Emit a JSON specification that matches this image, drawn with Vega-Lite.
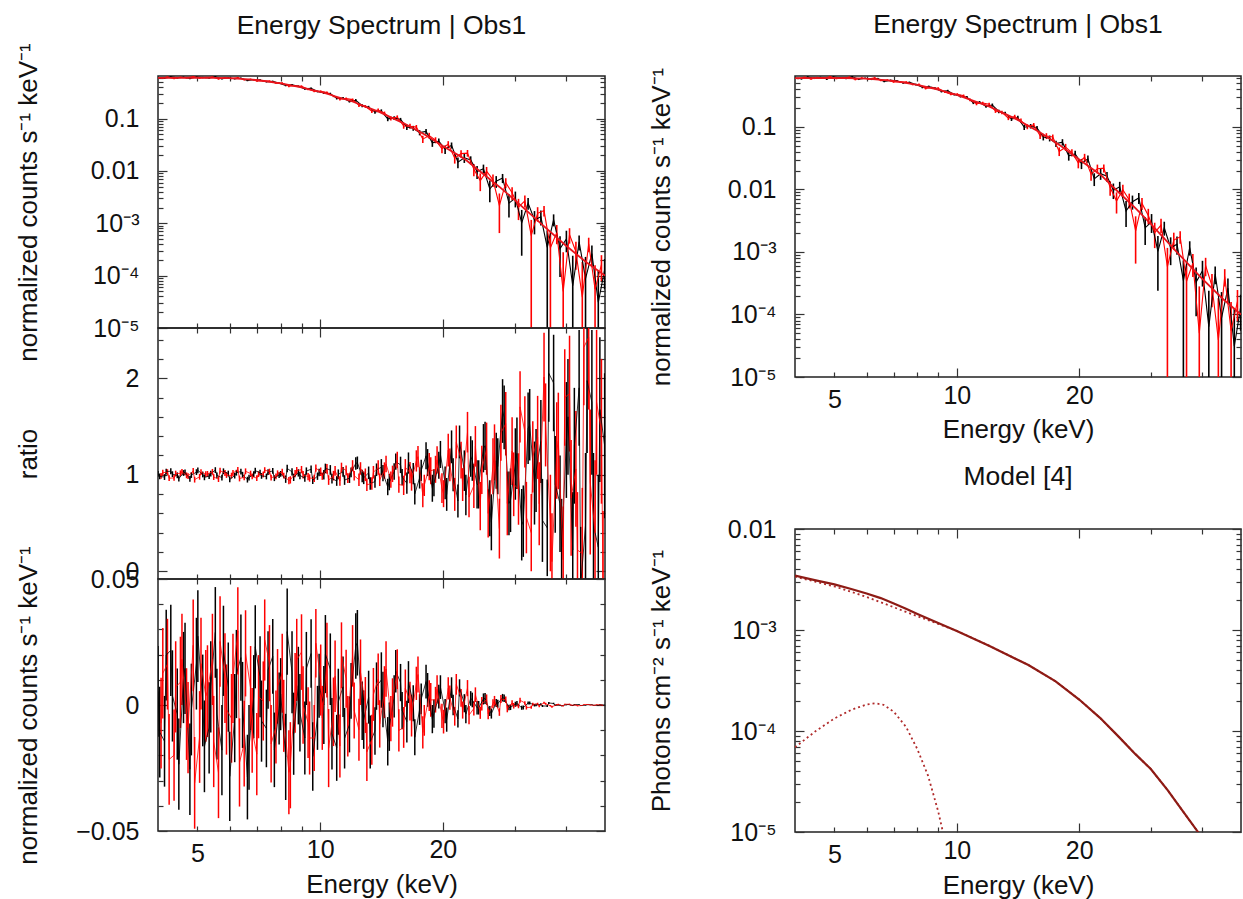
{
"$schema": "https://vega.github.io/schema/vega-lite/v6.json",
"padding": {"left": 14, "top": 10, "right": 0, "bottom": 0},
"background": "white",
"config": {
  "font": "Liberation Sans",
  "view": {"stroke": "#222", "strokeWidth": 1.5},
  "axis": {"domain": false, "grid": false, "labelFont": "Liberation Sans", "labelFontSize": 25, "labelColor": "#111", "titleFont": "Liberation Sans", "titleFontSize": 26, "titleFontWeight": "normal", "titleColor": "#111", "tickColor": "#333", "tickWidth": 1.2},
  "title": {"font": "Liberation Sans", "fontSize": 26.5, "fontWeight": "normal", "color": "#111", "anchor": "middle", "frame": "group"}
},
"datasets": {
"spec": [
{"s":"A","e":4.00,"c":0.605,"cl":0.587,"ch":0.623,"r":1.009,"rl":0.979,"rh":1.039,"d":0.0054,"dl":-0.0126,"dh":0.0234},
{"s":"A","e":4.15,"c":0.587,"cl":0.569,"ch":0.605,"r":0.976,"rl":0.946,"rh":1.006,"d":-0.0144,"dl":-0.0324,"dh":0.0036},
{"s":"A","e":4.30,"c":0.624,"cl":0.606,"ch":0.642,"r":1.036,"rl":1.006,"rh":1.066,"d":0.0217,"dl":0.0036,"dh":0.0398},
{"s":"A","e":4.46,"c":0.599,"cl":0.581,"ch":0.617,"r":0.994,"rl":0.964,"rh":1.024,"d":-0.0036,"dl":-0.0217,"dh":0.0145},
{"s":"A","e":4.62,"c":0.615,"cl":0.597,"ch":0.633,"r":1.018,"rl":0.988,"rh":1.048,"d":0.0109,"dl":-0.0072,"dh":0.029},
{"s":"A","e":4.79,"c":0.581,"cl":0.562,"ch":0.599,"r":0.958,"rl":0.928,"rh":0.988,"d":-0.0255,"dl":-0.0437,"dh":-0.0073},
{"s":"A","e":4.97,"c":0.623,"cl":0.605,"ch":0.642,"r":1.027,"rl":0.997,"rh":1.057,"d":0.0164,"dl":-0.0018,"dh":0.0346},
{"s":"A","e":5.15,"c":0.608,"cl":0.590,"ch":0.626,"r":1.003,"rl":0.973,"rh":1.033,"d":0.0018,"dl":-0.0164,"dh":0.02},
{"s":"A","e":5.34,"c":0.595,"cl":0.577,"ch":0.613,"r":0.985,"rl":0.955,"rh":1.015,"d":-0.0091,"dl":-0.0272,"dh":0.009},
{"s":"A","e":5.53,"c":0.630,"cl":0.612,"ch":0.648,"r":1.048,"rl":1.018,"rh":1.078,"d":0.0288,"dl":0.0108,"dh":0.0468},
{"s":"A","e":5.74,"c":0.578,"cl":0.560,"ch":0.596,"r":0.970,"rl":0.94,"rh":1.0,"d":-0.0179,"dl":-0.0358,"dh":0},
{"s":"A","e":5.95,"c":0.598,"cl":0.580,"ch":0.616,"r":1.012,"rl":0.982,"rh":1.042,"d":0.0071,"dl":-0.0106,"dh":0.0248},
{"s":"A","e":6.17,"c":0.577,"cl":0.559,"ch":0.594,"r":0.991,"rl":0.961,"rh":1.021,"d":-0.0052,"dl":-0.0227,"dh":0.0123},
{"s":"A","e":6.39,"c":0.590,"cl":0.573,"ch":0.607,"r":1.033,"rl":1.003,"rh":1.063,"d":0.0188,"dl":0.0017,"dh":0.0359},
{"s":"A","e":6.63,"c":0.532,"cl":0.516,"ch":0.549,"r":0.949,"rl":0.919,"rh":0.979,"d":-0.0286,"dl":-0.0454,"dh":-0.0118},
{"s":"A","e":6.87,"c":0.553,"cl":0.537,"ch":0.570,"r":1.006,"rl":0.976,"rh":1.036,"d":0.0033,"dl":-0.0132,"dh":0.0198},
{"s":"A","e":7.12,"c":0.546,"cl":0.530,"ch":0.562,"r":1.021,"rl":0.991,"rh":1.051,"d":0.0112,"dl":-0.0049,"dh":0.0273},
{"s":"A","e":7.38,"c":0.505,"cl":0.489,"ch":0.520,"r":0.982,"rl":0.952,"rh":1.012,"d":-0.0093,"dl":-0.0247,"dh":0.0061},
{"s":"A","e":7.65,"c":0.513,"cl":0.498,"ch":0.528,"r":1.039,"rl":1.009,"rh":1.069,"d":0.0193,"dl":0.0045,"dh":0.0341},
{"s":"A","e":7.93,"c":0.474,"cl":0.459,"ch":0.488,"r":0.997,"rl":0.967,"rh":1.027,"d":-0.0014,"dl":-0.0157,"dh":0.0129},
{"s":"A","e":8.23,"c":0.430,"cl":0.413,"ch":0.448,"r":0.954,"rl":0.916,"rh":0.992,"d":-0.0206,"dl":-0.0377,"dh":-0.0035},
{"s":"A","e":8.53,"c":0.441,"cl":0.425,"ch":0.457,"r":1.030,"rl":0.992,"rh":1.068,"d":0.013,"dl":-0.0033,"dh":0.0293},
{"s":"A","e":8.84,"c":0.414,"cl":0.398,"ch":0.429,"r":1.019,"rl":0.981,"rh":1.057,"d":0.0077,"dl":-0.0077,"dh":0.0231},
{"s":"A","e":9.17,"c":0.369,"cl":0.354,"ch":0.383,"r":0.966,"rl":0.928,"rh":1.004,"d":-0.0131,"dl":-0.0276,"dh":0.0014},
{"s":"A","e":9.50,"c":0.377,"cl":0.364,"ch":0.391,"r":1.057,"rl":1.019,"rh":1.095,"d":0.0204,"dl":0.0068,"dh":0.034},
{"s":"A","e":9.85,"c":0.329,"cl":0.316,"ch":0.342,"r":0.985,"rl":0.947,"rh":1.023,"d":-0.0051,"dl":-0.0178,"dh":0.0076},
{"s":"A","e":10.21,"c":0.309,"cl":0.294,"ch":0.325,"r":1.0,"rl":0.95,"rh":1.05,"d":0,"dl":-0.0155,"dh":0.0155},
{"s":"A","e":10.59,"c":0.298,"cl":0.284,"ch":0.312,"r":1.05,"rl":1.0,"rh":1.1,"d":0.0142,"dl":0,"dh":0.0284},
{"s":"A","e":10.98,"c":0.244,"cl":0.231,"ch":0.257,"r":0.935,"rl":0.885,"rh":0.985,"d":-0.017,"dl":-0.0301,"dh":-0.0039},
{"s":"A","e":11.38,"c":0.247,"cl":0.235,"ch":0.259,"r":1.03,"rl":0.98,"rh":1.08,"d":0.0072,"dl":-0.0048,"dh":0.0192},
{"s":"A","e":11.80,"c":0.213,"cl":0.202,"ch":0.224,"r":0.965,"rl":0.915,"rh":1.015,"d":-0.0077,"dl":-0.0188,"dh":0.0034},
{"s":"A","e":12.23,"c":0.223,"cl":0.210,"ch":0.236,"r":1.117,"rl":1.052,"rh":1.182,"d":0.0234,"dl":0.0104,"dh":0.0364},
{"s":"A","e":12.68,"c":0.177,"cl":0.165,"ch":0.188,"r":0.987,"rl":0.922,"rh":1.052,"d":-0.0023,"dl":-0.0139,"dh":0.0093},
{"s":"A","e":13.15,"c":0.164,"cl":0.154,"ch":0.175,"r":1.02,"rl":0.955,"rh":1.085,"d":0.0031,"dl":-0.0074,"dh":0.0136},
{"s":"A","e":13.63,"c":0.134,"cl":0.124,"ch":0.143,"r":0.929,"rl":0.864,"rh":0.994,"d":-0.0103,"dl":-0.0197,"dh":-0.0009},
{"s":"A","e":14.13,"c":0.139,"cl":0.128,"ch":0.150,"r":1.077,"rl":0.992,"rh":1.162,"d":0.0099,"dl":-0.0011,"dh":0.0209},
{"s":"A","e":14.65,"c":0.0986,"cl":0.089,"ch":0.108,"r":0.873,"rl":0.788,"rh":0.958,"d":-0.0144,"dl":-0.024,"dh":-0.0048},
{"s":"A","e":15.19,"c":0.102,"cl":0.094,"ch":0.111,"r":1.034,"rl":0.949,"rh":1.119,"d":0.0034,"dl":-0.005,"dh":0.0118},
{"s":"A","e":15.75,"c":0.0958,"cl":0.0884,"ch":0.103,"r":1.102,"rl":1.017,"rh":1.187,"d":0.0089,"dl":0.0015,"dh":0.0163},
{"s":"A","e":16.32,"c":0.0689,"cl":0.0606,"ch":0.0772,"r":0.912,"rl":0.802,"rh":1.022,"d":-0.0066,"dl":-0.0149,"dh":0.0017},
{"s":"A","e":16.92,"c":0.0655,"cl":0.0584,"ch":0.0726,"r":1.011,"rl":0.901,"rh":1.121,"d":0.0007,"dl":-0.0064,"dh":0.0078},
{"s":"A","e":17.54,"c":0.0539,"cl":0.0478,"ch":0.06,"r":0.967,"rl":0.857,"rh":1.077,"d":-0.0018,"dl":-0.0079,"dh":0.0043},
{"s":"A","e":18.19,"c":0.0568,"cl":0.0502,"ch":0.0635,"r":1.196,"rl":1.056,"rh":1.336,"d":0.0093,"dl":0.0026,"dh":0.016},
{"s":"A","e":18.85,"c":0.0344,"cl":0.0288,"ch":0.04,"r":0.86,"rl":0.72,"rh":1.0,"d":-0.0056,"dl":-0.0112,"dh":0},
{"s":"A","e":19.55,"c":0.0369,"cl":0.0322,"ch":0.0416,"r":1.098,"rl":0.958,"rh":1.238,"d":0.0033,"dl":-0.0014,"dh":0.008},
{"s":"A","e":20.26,"c":0.0259,"cl":0.0211,"ch":0.0307,"r":0.915,"rl":0.745,"rh":1.085,"d":-0.0024,"dl":-0.0072,"dh":0.0024},
{"s":"A","e":21.01,"c":0.0308,"cl":0.0267,"ch":0.0349,"r":1.289,"rl":1.119,"rh":1.459,"d":0.0069,"dl":0.0028,"dh":0.011},
{"s":"A","e":21.78,"c":0.0147,"cl":0.0113,"ch":0.0181,"r":0.728,"rl":0.558,"rh":0.898,"d":-0.0055,"dl":-0.0089,"dh":-0.0021},
{"s":"A","e":22.58,"c":0.0178,"cl":0.0142,"ch":0.0214,"r":1.042,"rl":0.832,"rh":1.252,"d":0.0007,"dl":-0.0029,"dh":0.0043},
{"s":"A","e":23.41,"c":0.0162,"cl":0.0133,"ch":0.019,"r":1.189,"rl":0.979,"rh":1.399,"d":0.0026,"dl":-0.0003,"dh":0.0055},
{"s":"A","e":24.27,"c":0.0097,"cl":0.007,"ch":0.0124,"r":0.9,"rl":0.65,"rh":1.15,"d":-0.0011,"dl":-0.0038,"dh":0.0016},
{"s":"A","e":25.16,"c":0.011,"cl":0.00887,"ch":0.0132,"r":1.275,"rl":1.025,"rh":1.525,"d":0.0024,"dl":0.0002,"dh":0.0046},
{"s":"A","e":26.08,"c":0.00452,"cl":0.00251,"ch":0.00653,"r":0.652,"rl":0.362,"rh":0.942,"d":-0.0024,"dl":-0.0044,"dh":-0.0004},
{"s":"A","e":27.04,"c":0.00635,"cl":0.00474,"ch":0.00796,"r":1.145,"rl":0.855,"rh":1.435,"d":0.0008,"dl":-0.0008,"dh":0.0024},
{"s":"A","e":28.03,"c":0.0073,"cl":0.00585,"ch":0.00875,"r":1.66,"rl":1.33,"rh":1.99,"d":0.0029,"dl":0.0014,"dh":0.0044},
{"s":"A","e":29.06,"c":0.00243,"cl":0.00129,"ch":0.00357,"r":0.703,"rl":0.373,"rh":1.033,"d":-0.001,"dl":-0.0021,"dh":0.0001},
{"s":"A","e":30.13,"c":0.00302,"cl":0.00201,"ch":0.00403,"r":1.111,"rl":0.741,"rh":1.481,"d":0.0003,"dl":-0.0007,"dh":0.0013},
{"s":"A","e":31.23,"c":0.00102,"cl":0.00024,"ch":0.0018,"r":0.482,"rl":0.112,"rh":0.852,"d":-0.0011,"dl":-0.0019,"dh":-0.0003},
{"s":"A","e":32.38,"c":0.00243,"cl":0.00182,"ch":0.00304,"r":1.481,"rl":1.111,"rh":1.851,"d":0.0008,"dl":0.0002,"dh":0.0014},
{"s":"A","e":33.57,"c":0.00116,"cl":0.000614,"ch":0.00171,"r":0.914,"rl":0.484,"rh":1.344,"d":-0.0001,"dl":-0.0006,"dh":0.0004},
{"s":"A","e":34.80,"c":0.00133,"cl":0.000904,"ch":0.00176,"r":1.344,"rl":0.914,"rh":1.774,"d":0.0003,"dl":-0.0001,"dh":0.0007},
{"s":"A","e":36.08,"c":0.000347,"cl":0.000001,"ch":0.000733,"r":0.45,"rl":-0.05,"rh":0.95,"d":-0.0004,"dl":-0.0008,"dh":0},
{"s":"A","e":37.40,"c":0.00117,"cl":0.000873,"ch":0.00148,"r":1.95,"rl":1.45,"rh":2.45,"d":0.0006,"dl":0.0003,"dh":0.0009},
{"s":"A","e":38.78,"c":0.000329,"cl":0.000094,"ch":0.000564,"r":0.7,"rl":0.2,"rh":1.2,"d":-0.0001,"dl":-0.0003,"dh":0.0001},
{"s":"A","e":40.20,"c":0.0005,"cl":0.000279,"ch":0.000721,"r":1.36,"rl":0.76,"rh":1.96,"d":0.0001,"dl":-0.0001,"dh":0.0003},
{"s":"A","e":41.67,"c":0.000064,"cl":0.000001,"ch":0.00024,"r":0.22,"rl":-0.38,"rh":0.82,"d":-0.0002,"dl":-0.0004,"dh":0},
{"s":"A","e":43.20,"c":0.000443,"cl":0.000303,"ch":0.000583,"r":1.9,"rl":1.3,"rh":2.5,"d":0.0002,"dl":0.0001,"dh":0.0003},
{"s":"A","e":44.79,"c":0.000088,"cl":0.000001,"ch":0.000228,"r":0.475,"rl":-0.275,"rh":1.225,"d":-0.0001,"dl":-0.0002,"dh":0},
{"s":"A","e":46.43,"c":0.000264,"cl":0.000151,"ch":0.000377,"r":1.75,"rl":1.0,"rh":2.5,"d":0.0001,"dl":0,"dh":0.0002},
{"s":"A","e":48.14,"c":0.000031,"cl":0.000001,"ch":0.000124,"r":0.25,"rl":-0.5,"rh":1.0,"d":-0.0001,"dl":-0.0002,"dh":0},
{"s":"A","e":49.90,"c":0.000131,"cl":0.000055,"ch":0.000207,"r":1.3,"rl":0.55,"rh":2.05,"d":0,"dl":-0.0001,"dh":0.0001},
{"s":"A","e":4.04,"r":0.982,"rl":0.952,"rh":1.012,"d":-0.0108,"dl":-0.0288,"dh":0.0072},
{"s":"A","e":4.19,"r":1.033,"rl":1.003,"rh":1.063,"d":0.0198,"dl":0.0018,"dh":0.0378},
{"s":"A","e":4.34,"r":1.006,"rl":0.976,"rh":1.036,"d":0.0036,"dl":-0.0145,"dh":0.0217},
{"s":"A","e":4.50,"r":0.961,"rl":0.931,"rh":0.991,"d":-0.0235,"dl":-0.0416,"dh":-0.0054},
{"s":"A","e":4.66,"r":1.024,"rl":0.994,"rh":1.054,"d":0.0145,"dl":-0.0036,"dh":0.0326},
{"s":"A","e":4.83,"r":0.997,"rl":0.967,"rh":1.027,"d":-0.0018,"dl":-0.02,"dh":0.0164},
{"s":"A","e":5.01,"r":1.045,"rl":1.015,"rh":1.075,"d":0.0273,"dl":0.0091,"dh":0.0455},
{"s":"A","e":5.20,"r":0.973,"rl":0.943,"rh":1.003,"d":-0.0164,"dl":-0.0346,"dh":0.0018},
{"s":"A","e":5.39,"r":1.012,"rl":0.982,"rh":1.042,"d":0.0072,"dl":-0.0109,"dh":0.0253},
{"s":"A","e":5.58,"r":0.994,"rl":0.964,"rh":1.024,"d":-0.0036,"dl":-0.0216,"dh":0.0144},
{"s":"A","e":5.79,"r":1.036,"rl":1.006,"rh":1.066,"d":0.0215,"dl":0.0036,"dh":0.0394},
{"s":"A","e":6.00,"r":0.952,"rl":0.922,"rh":0.982,"d":-0.0283,"dl":-0.046,"dh":-0.0106},
{"s":"A","e":6.23,"r":1.021,"rl":0.991,"rh":1.051,"d":0.0123,"dl":-0.0052,"dh":0.0298},
{"s":"A","e":6.45,"r":1.0,"rl":0.97,"rh":1.03,"d":0,"dl":-0.0171,"dh":0.0171},
{"s":"A","e":6.69,"r":0.97,"rl":0.94,"rh":1.0,"d":-0.0168,"dl":-0.0336,"dh":0},
{"s":"A","e":6.93,"r":1.042,"rl":1.012,"rh":1.072,"d":0.0231,"dl":0.0066,"dh":0.0396},
{"s":"A","e":7.18,"r":0.988,"rl":0.958,"rh":1.018,"d":-0.0064,"dl":-0.0225,"dh":0.0097},
{"s":"A","e":7.45,"r":1.027,"rl":0.997,"rh":1.057,"d":0.0139,"dl":-0.0015,"dh":0.0293},
{"s":"A","e":7.72,"r":0.964,"rl":0.934,"rh":0.994,"d":-0.0178,"dl":-0.0326,"dh":-0.003},
{"s":"A","e":8.00,"r":1.009,"rl":0.979,"rh":1.039,"d":0.0043,"dl":-0.01,"dh":0.0186},
{"s":"A","e":8.30,"r":1.065,"rl":1.027,"rh":1.103,"d":0.0291,"dl":0.012,"dh":0.0462},
{"s":"A","e":8.61,"r":0.973,"rl":0.935,"rh":1.011,"d":-0.0114,"dl":-0.0277,"dh":0.0049},
{"s":"A","e":8.92,"r":0.992,"rl":0.954,"rh":1.03,"d":-0.0031,"dl":-0.0185,"dh":0.0123},
{"s":"A","e":9.25,"r":1.038,"rl":1.0,"rh":1.076,"d":0.0145,"dl":0,"dh":0.029},
{"s":"A","e":9.59,"r":0.943,"rl":0.905,"rh":0.981,"d":-0.0204,"dl":-0.034,"dh":-0.0068},
{"s":"A","e":9.94,"r":1.023,"rl":0.985,"rh":1.061,"d":0.0076,"dl":-0.0051,"dh":0.0203},
{"s":"A","e":10.30,"r":1.065,"rl":1.015,"rh":1.115,"d":0.0202,"dl":0.0047,"dh":0.0357},
{"s":"A","e":10.69,"r":0.96,"rl":0.91,"rh":1.01,"d":-0.0114,"dl":-0.0256,"dh":0.0028},
{"s":"A","e":11.08,"r":1.005,"rl":0.955,"rh":1.055,"d":0.0013,"dl":-0.0118,"dh":0.0144},
{"s":"A","e":11.48,"r":0.945,"rl":0.895,"rh":0.995,"d":-0.0132,"dl":-0.0252,"dh":-0.0012},
{"s":"A","e":11.91,"r":1.025,"rl":0.975,"rh":1.075,"d":0.0056,"dl":-0.0055,"dh":0.0167},
{"s":"A","e":12.34,"r":1.124,"rl":1.059,"rh":1.189,"d":0.0247,"dl":0.0117,"dh":0.0377},
{"s":"A","e":12.79,"r":0.968,"rl":0.903,"rh":1.033,"d":-0.0058,"dl":-0.0174,"dh":0.0058},
{"s":"A","e":13.27,"r":0.909,"rl":0.844,"rh":0.974,"d":-0.0147,"dl":-0.0252,"dh":-0.0042},
{"s":"A","e":13.75,"r":1.052,"rl":0.987,"rh":1.117,"d":0.0075,"dl":-0.0019,"dh":0.0169},
{"s":"A","e":14.26,"r":1.017,"rl":0.932,"rh":1.102,"d":0.0022,"dl":-0.0088,"dh":0.0132},
{"s":"A","e":14.78,"r":0.924,"rl":0.839,"rh":1.009,"d":-0.0086,"dl":-0.0182,"dh":0.001},
{"s":"A","e":15.33,"r":1.136,"rl":1.051,"rh":1.221,"d":0.0134,"dl":0.005,"dh":0.0218},
{"s":"A","e":15.89,"r":0.975,"rl":0.89,"rh":1.06,"d":-0.0022,"dl":-0.0096,"dh":0.0052},
{"s":"A","e":16.47,"r":1.121,"rl":1.011,"rh":1.231,"d":0.0091,"dl":0.0008,"dh":0.0174},
{"s":"A","e":17.07,"r":0.802,"rl":0.692,"rh":0.912,"d":-0.0128,"dl":-0.0199,"dh":-0.0057},
{"s":"A","e":17.70,"r":1.044,"rl":0.934,"rh":1.154,"d":0.0024,"dl":-0.0037,"dh":0.0085},
{"s":"A","e":18.35,"r":1.126,"rl":0.986,"rh":1.266,"d":0.006,"dl":-0.0007,"dh":0.0127},
{"s":"A","e":19.02,"r":0.916,"rl":0.776,"rh":1.056,"d":-0.0034,"dl":-0.009,"dh":0.0022},
{"s":"A","e":19.73,"r":1.21,"rl":1.07,"rh":1.35,"d":0.0071,"dl":0.0024,"dh":0.0118},
{"s":"A","e":20.44,"r":0.796,"rl":0.626,"rh":0.966,"d":-0.0058,"dl":-0.0106,"dh":-0.001},
{"s":"A","e":21.20,"r":1.0,"rl":0.83,"rh":1.17,"d":0,"dl":-0.0041,"dh":0.0041},
{"s":"A","e":21.98,"r":1.34,"rl":1.17,"rh":1.51,"d":0.0068,"dl":0.0034,"dh":0.0102},
{"s":"A","e":22.78,"r":0.79,"rl":0.58,"rh":1.0,"d":-0.0036,"dl":-0.0072,"dh":0},
{"s":"A","e":23.62,"r":1.147,"rl":0.937,"rh":1.357,"d":0.002,"dl":-0.0009,"dh":0.0049},
{"s":"A","e":24.49,"r":0.9,"rl":0.65,"rh":1.15,"d":-0.0011,"dl":-0.0038,"dh":0.0016},
{"s":"A","e":25.39,"r":1.3,"rl":1.05,"rh":1.55,"d":0.0026,"dl":0.0004,"dh":0.0048},
{"s":"A","e":26.31,"r":0.507,"rl":0.217,"rh":0.797,"d":-0.0034,"dl":-0.0054,"dh":-0.0014},
{"s":"A","e":27.28,"r":1.087,"rl":0.797,"rh":1.377,"d":0.0005,"dl":-0.0011,"dh":0.0021},
{"s":"A","e":28.28,"r":1.594,"rl":1.264,"rh":1.924,"d":0.0027,"dl":0.0012,"dh":0.0042},
{"s":"A","e":29.32,"r":0.736,"rl":0.406,"rh":1.066,"d":-0.0009,"dl":-0.002,"dh":0.0002},
{"s":"A","e":30.40,"r":1.222,"rl":0.852,"rh":1.592,"d":0.0006,"dl":-0.0004,"dh":0.0016},
{"s":"A","e":31.51,"r":0.519,"rl":0.149,"rh":0.889,"d":-0.001,"dl":-0.0018,"dh":-0.0002},
{"s":"A","e":32.67,"r":1.518,"rl":1.148,"rh":1.888,"d":0.0008,"dl":0.0002,"dh":0.0014},
{"s":"A","e":33.87,"r":1.043,"rl":0.613,"rh":1.473,"d":0,"dl":-0.0005,"dh":0.0005},
{"s":"A","e":35.11,"r":0.527,"rl":0.097,"rh":0.957,"d":-0.0004,"dl":-0.0008,"dh":0},
{"s":"A","e":36.40,"r":2.05,"rl":1.55,"rh":2.55,"d":0.0008,"dl":0.0004,"dh":0.0012},
{"s":"A","e":37.74,"r":0.9,"rl":0.4,"rh":1.4,"d":-0.0001,"dl":-0.0004,"dh":0.0002},
{"s":"A","e":39.13,"r":0.25,"rl":-0.25,"rh":0.75,"d":-0.0003,"dl":-0.0005,"dh":-0.0001},
{"s":"A","e":40.56,"r":1.6,"rl":1.0,"rh":2.2,"d":0.0002,"dl":0,"dh":0.0004},
{"s":"A","e":42.05,"r":1.3,"rl":0.7,"rh":1.9,"d":0.0001,"dl":-0.0001,"dh":0.0003},
{"s":"A","e":43.59,"r":-0.14,"rl":-0.74,"rh":0.46,"d":-0.0002,"dl":-0.0003,"dh":-0.0001},
{"s":"A","e":45.19,"r":1.975,"rl":1.225,"rh":2.725,"d":0.0001,"dl":0,"dh":0.0002},
{"s":"A","e":46.85,"r":0.475,"rl":-0.275,"rh":1.225,"d":-0.0001,"dl":-0.0002,"dh":0},
{"s":"A","e":48.57,"r":1.675,"rl":0.925,"rh":2.425,"d":0.0001,"dl":0,"dh":0.0002},
{"s":"B","e":4.07,"c":0.593,"cl":0.575,"ch":0.611,"r":0.988,"rl":0.958,"rh":1.018,"d":-0.0072,"dl":-0.0252,"dh":0.0108},
{"s":"B","e":4.22,"c":0.618,"cl":0.600,"ch":0.636,"r":1.027,"rl":0.997,"rh":1.057,"d":0.0162,"dl":-0.0018,"dh":0.0342},
{"s":"B","e":4.38,"c":0.583,"cl":0.565,"ch":0.601,"r":0.967,"rl":0.937,"rh":0.997,"d":-0.0199,"dl":-0.038,"dh":-0.0018},
{"s":"B","e":4.54,"c":0.613,"cl":0.594,"ch":0.631,"r":1.015,"rl":0.985,"rh":1.045,"d":0.009,"dl":-0.0091,"dh":0.0271},
{"s":"B","e":4.70,"c":0.601,"cl":0.583,"ch":0.620,"r":0.994,"rl":0.964,"rh":1.024,"d":-0.0036,"dl":-0.0218,"dh":0.0146},
{"s":"B","e":4.88,"c":0.630,"cl":0.612,"ch":0.648,"r":1.039,"rl":1.009,"rh":1.069,"d":0.0237,"dl":0.0055,"dh":0.0419},
{"s":"B","e":5.06,"c":0.594,"cl":0.576,"ch":0.612,"r":0.979,"rl":0.949,"rh":1.009,"d":-0.0127,"dl":-0.0309,"dh":0.0055},
{"s":"B","e":5.24,"c":0.609,"cl":0.590,"ch":0.627,"r":1.006,"rl":0.976,"rh":1.036,"d":0.0036,"dl":-0.0146,"dh":0.0218},
{"s":"B","e":5.44,"c":0.621,"cl":0.603,"ch":0.639,"r":1.03,"rl":1.0,"rh":1.06,"d":0.0181,"dl":0,"dh":0.0362},
{"s":"B","e":5.63,"c":0.572,"cl":0.554,"ch":0.590,"r":0.955,"rl":0.925,"rh":0.985,"d":-0.0269,"dl":-0.0449,"dh":-0.0089},
{"s":"B","e":5.84,"c":0.604,"cl":0.586,"ch":0.622,"r":1.018,"rl":0.988,"rh":1.048,"d":0.0107,"dl":-0.0071,"dh":0.0285},
{"s":"B","e":6.06,"c":0.581,"cl":0.564,"ch":0.599,"r":0.991,"rl":0.961,"rh":1.021,"d":-0.0053,"dl":-0.0229,"dh":0.0123},
{"s":"B","e":6.28,"c":0.606,"cl":0.589,"ch":0.623,"r":1.051,"rl":1.021,"rh":1.081,"d":0.0294,"dl":0.0121,"dh":0.0467},
{"s":"B","e":6.51,"c":0.551,"cl":0.534,"ch":0.568,"r":0.973,"rl":0.943,"rh":1.003,"d":-0.0153,"dl":-0.0323,"dh":0.0017},
{"s":"B","e":6.75,"c":0.562,"cl":0.546,"ch":0.579,"r":1.012,"rl":0.982,"rh":1.042,"d":0.0067,"dl":-0.01,"dh":0.0234},
{"s":"B","e":6.99,"c":0.523,"cl":0.507,"ch":0.539,"r":0.964,"rl":0.934,"rh":0.994,"d":-0.0195,"dl":-0.0358,"dh":-0.0032},
{"s":"B","e":7.25,"c":0.526,"cl":0.510,"ch":0.542,"r":1.003,"rl":0.973,"rh":1.033,"d":0.0016,"dl":-0.0141,"dh":0.0173},
{"s":"B","e":7.51,"c":0.521,"cl":0.506,"ch":0.536,"r":1.033,"rl":1.003,"rh":1.063,"d":0.0166,"dl":0.0015,"dh":0.0317},
{"s":"B","e":7.79,"c":0.476,"cl":0.461,"ch":0.490,"r":0.982,"rl":0.952,"rh":1.012,"d":-0.0087,"dl":-0.0232,"dh":0.0058},
{"s":"B","e":8.07,"c":0.476,"cl":0.460,"ch":0.491,"r":1.027,"rl":0.993,"rh":1.061,"d":0.0126,"dl":-0.0031,"dh":0.0283},
{"s":"B","e":8.38,"c":0.413,"cl":0.396,"ch":0.430,"r":0.939,"rl":0.901,"rh":0.977,"d":-0.0267,"dl":-0.0434,"dh":-0.01},
{"s":"B","e":8.68,"c":0.422,"cl":0.406,"ch":0.438,"r":1.011,"rl":0.973,"rh":1.049,"d":0.0048,"dl":-0.011,"dh":0.0206},
{"s":"B","e":9.00,"c":0.415,"cl":0.400,"ch":0.430,"r":1.053,"rl":1.015,"rh":1.091,"d":0.021,"dl":0.006,"dh":0.036},
{"s":"B","e":9.34,"c":0.362,"cl":0.348,"ch":0.376,"r":0.981,"rl":0.943,"rh":1.019,"d":-0.007,"dl":-0.021,"dh":0.007},
{"s":"B","e":9.67,"c":0.332,"cl":0.319,"ch":0.345,"r":0.962,"rl":0.924,"rh":1.0,"d":-0.0131,"dl":-0.0262,"dh":0},
{"s":"B","e":10.03,"c":0.331,"cl":0.317,"ch":0.345,"r":1.031,"rl":0.987,"rh":1.075,"d":0.0099,"dl":-0.0042,"dh":0.024},
{"s":"B","e":10.39,"c":0.314,"cl":0.299,"ch":0.329,"r":1.06,"rl":1.01,"rh":1.11,"d":0.0178,"dl":0.003,"dh":0.0326},
{"s":"B","e":10.78,"c":0.269,"cl":0.256,"ch":0.283,"r":0.99,"rl":0.94,"rh":1.04,"d":-0.0027,"dl":-0.0163,"dh":0.0109},
{"s":"B","e":11.18,"c":0.234,"cl":0.221,"ch":0.246,"r":0.935,"rl":0.885,"rh":0.985,"d":-0.0163,"dl":-0.0288,"dh":-0.0038},
{"s":"B","e":11.58,"c":0.240,"cl":0.229,"ch":0.252,"r":1.045,"rl":0.995,"rh":1.095,"d":0.0104,"dl":-0.0011,"dh":0.0219},
{"s":"B","e":12.01,"c":0.230,"cl":0.217,"ch":0.242,"r":1.093,"rl":1.035,"rh":1.151,"d":0.0195,"dl":0.0073,"dh":0.0317},
{"s":"B","e":12.45,"c":0.179,"cl":0.167,"ch":0.191,"r":0.948,"rl":0.883,"rh":1.013,"d":-0.0098,"dl":-0.0221,"dh":0.0025},
{"s":"B","e":12.91,"c":0.170,"cl":0.159,"ch":0.181,"r":1.0,"rl":0.935,"rh":1.065,"d":0,"dl":-0.0111,"dh":0.0111},
{"s":"B","e":13.39,"c":0.138,"cl":0.128,"ch":0.148,"r":0.909,"rl":0.844,"rh":0.974,"d":-0.0138,"dl":-0.0237,"dh":-0.0039},
{"s":"B","e":13.88,"c":0.146,"cl":0.136,"ch":0.156,"r":1.075,"rl":1.0,"rh":1.15,"d":0.0102,"dl":0,"dh":0.0204},
{"s":"B","e":14.38,"c":0.126,"cl":0.116,"ch":0.136,"r":1.043,"rl":0.958,"rh":1.128,"d":0.0051,"dl":-0.0052,"dh":0.0154},
{"s":"B","e":14.91,"c":0.101,"cl":0.0916,"ch":0.110,"r":0.949,"rl":0.864,"rh":1.034,"d":-0.0054,"dl":-0.0144,"dh":0.0036},
{"s":"B","e":15.46,"c":0.107,"cl":0.0991,"ch":0.115,"r":1.153,"rl":1.068,"rh":1.238,"d":0.0142,"dl":0.0063,"dh":0.0221},
{"s":"B","e":16.03,"c":0.0721,"cl":0.064,"ch":0.0802,"r":0.89,"rl":0.79,"rh":0.99,"d":-0.0089,"dl":-0.017,"dh":-0.0008},
{"s":"B","e":16.61,"c":0.0715,"cl":0.0638,"ch":0.0792,"r":1.022,"rl":0.912,"rh":1.132,"d":0.0015,"dl":-0.0062,"dh":0.0092},
{"s":"B","e":17.22,"c":0.0687,"cl":0.0621,"ch":0.0753,"r":1.143,"rl":1.033,"rh":1.253,"d":0.0086,"dl":0.002,"dh":0.0152},
{"s":"B","e":17.86,"c":0.0405,"cl":0.0341,"ch":0.0469,"r":0.788,"rl":0.663,"rh":0.913,"d":-0.0109,"dl":-0.0173,"dh":-0.0045},
{"s":"B","e":18.52,"c":0.0473,"cl":0.0412,"ch":0.0534,"r":1.084,"rl":0.944,"rh":1.224,"d":0.0037,"dl":-0.0024,"dh":0.0098},
{"s":"B","e":19.19,"c":0.0388,"cl":0.0337,"ch":0.0439,"r":1.056,"rl":0.916,"rh":1.196,"d":0.0021,"dl":-0.003,"dh":0.0072},
{"s":"B","e":19.90,"c":0.0265,"cl":0.0217,"ch":0.0313,"r":0.861,"rl":0.706,"rh":1.016,"d":-0.0043,"dl":-0.0091,"dh":0.0005},
{"s":"B","e":20.62,"c":0.0326,"cl":0.0282,"ch":0.037,"r":1.255,"rl":1.085,"rh":1.425,"d":0.0066,"dl":0.0022,"dh":0.011},
{"s":"B","e":21.39,"c":0.0175,"cl":0.0138,"ch":0.0212,"r":0.796,"rl":0.626,"rh":0.966,"d":-0.0045,"dl":-0.0082,"dh":-0.0008},
{"s":"B","e":22.17,"c":0.0214,"cl":0.0179,"ch":0.0249,"r":1.152,"rl":0.962,"rh":1.342,"d":0.0028,"dl":-0.0007,"dh":0.0063},
{"s":"B","e":22.99,"c":0.0219,"cl":0.0187,"ch":0.0251,"r":1.441,"rl":1.231,"rh":1.651,"d":0.0067,"dl":0.0035,"dh":0.0099},
{"s":"B","e":23.83,"c":0.0107,"cl":0.0079,"ch":0.0135,"r":0.885,"rl":0.655,"rh":1.115,"d":-0.0014,"dl":-0.0042,"dh":0.0014},
{"s":"B","e":24.71,"c":0.00653,"cl":0.00411,"ch":0.00895,"r":0.675,"rl":0.425,"rh":0.925,"d":-0.0031,"dl":-0.0055,"dh":-0.0007},
{"s":"B","e":25.61,"c":0.00984,"cl":0.00775,"ch":0.0119,"r":1.27,"rl":1.0,"rh":1.54,"d":0.0021,"dl":0,"dh":0.0042},
{"s":"B","e":26.55,"c":0.00675,"cl":0.00495,"ch":0.00855,"r":1.087,"rl":0.797,"rh":1.377,"d":0.0005,"dl":-0.0013,"dh":0.0023},
{"s":"B","e":27.53,"c":0.00218,"cl":0.00065,"ch":0.00371,"r":0.442,"rl":0.132,"rh":0.752,"d":-0.0028,"dl":-0.0043,"dh":-0.0013},
{"s":"B","e":28.54,"c":0.00596,"cl":0.00467,"ch":0.00725,"r":1.528,"rl":1.198,"rh":1.858,"d":0.0021,"dl":0.0008,"dh":0.0034},
{"s":"B","e":29.58,"c":0.00382,"cl":0.00275,"ch":0.00489,"r":1.245,"rl":0.895,"rh":1.595,"d":0.0008,"dl":-0.0003,"dh":0.0019},
{"s":"B","e":30.67,"c":0.00204,"cl":0.00115,"ch":0.00293,"r":0.852,"rl":0.482,"rh":1.222,"d":-0.0004,"dl":-0.0013,"dh":0.0005},
{"s":"B","e":31.79,"c":0.00269,"cl":0.002,"ch":0.00338,"r":1.444,"rl":1.074,"rh":1.814,"d":0.0008,"dl":0.0001,"dh":0.0015},
{"s":"B","e":32.96,"c":0.00058,"cl":0.000001,"ch":0.00116,"r":0.4,"rl":0,"rh":0.8,"d":-0.0009,"dl":-0.0015,"dh":-0.0003},
{"s":"B","e":34.17,"c":0.00155,"cl":0.00107,"ch":0.00203,"r":1.387,"rl":0.957,"rh":1.817,"d":0.0004,"dl":-0.0001,"dh":0.0009},
{"s":"B","e":35.43,"c":0.00175,"cl":0.00135,"ch":0.00215,"r":2.012,"rl":1.552,"rh":2.472,"d":0.0009,"dl":0.0005,"dh":0.0013},
{"s":"B","e":36.73,"c":0.00034,"cl":0.000001,"ch":0.00068,"r":0.5,"rl":0,"rh":1.0,"d":-0.0003,"dl":-0.0006,"dh":0},
{"s":"B","e":38.07,"c":0.000663,"cl":0.000398,"ch":0.000928,"r":1.25,"rl":0.75,"rh":1.75,"d":0.0001,"dl":-0.0002,"dh":0.0004},
{"s":"B","e":39.48,"c":0.00005,"cl":0.000001,"ch":0.000281,"r":0.12,"rl":-0.43,"rh":0.67,"d":-0.0004,"dl":-0.0006,"dh":-0.0002},
{"s":"B","e":40.92,"c":0.000607,"cl":0.000409,"ch":0.000805,"r":1.84,"rl":1.24,"rh":2.44,"d":0.0003,"dl":0.0001,"dh":0.0005},
{"s":"B","e":42.42,"c":0.000286,"cl":0.00013,"ch":0.000442,"r":1.06,"rl":0.46,"rh":1.66,"d":0,"dl":-0.0002,"dh":0.0002},
{"s":"B","e":43.98,"c":0.000039,"cl":0.000001,"ch":0.000182,"r":0.184,"rl":-0.496,"rh":0.864,"d":-0.0002,"dl":-0.0003,"dh":-0.0001},
{"s":"B","e":45.60,"c":0.000405,"cl":0.00028,"ch":0.00053,"r":2.425,"rl":1.675,"rh":3.175,"d":0.0002,"dl":0.0001,"dh":0.0003},
{"s":"B","e":47.27,"c":0.000055,"cl":0.000001,"ch":0.000158,"r":0.4,"rl":-0.35,"rh":1.15,"d":-0.0001,"dl":-0.0002,"dh":0},
{"s":"B","e":49.01,"c":0.000162,"cl":0.000078,"ch":0.000246,"r":1.45,"rl":0.7,"rh":2.2,"d":0,"dl":-0.0001,"dh":0.0001},
{"s":"B","e":4.11,"r":1.021,"rl":0.991,"rh":1.051,"d":0.0126,"dl":-0.0054,"dh":0.0306},
{"s":"B","e":4.26,"r":0.964,"rl":0.934,"rh":0.994,"d":-0.0216,"dl":-0.0396,"dh":-0.0036},
{"s":"B","e":4.42,"r":1.012,"rl":0.982,"rh":1.042,"d":0.0072,"dl":-0.0109,"dh":0.0253},
{"s":"B","e":4.58,"r":1.03,"rl":1.0,"rh":1.06,"d":0.0181,"dl":0,"dh":0.0362},
{"s":"B","e":4.74,"r":0.985,"rl":0.955,"rh":1.015,"d":-0.009,"dl":-0.0271,"dh":0.0091},
{"s":"B","e":4.92,"r":0.949,"rl":0.919,"rh":0.979,"d":-0.0309,"dl":-0.0491,"dh":-0.0127},
{"s":"B","e":5.10,"r":1.027,"rl":0.997,"rh":1.057,"d":0.0164,"dl":-0.0018,"dh":0.0346},
{"s":"B","e":5.29,"r":1.009,"rl":0.979,"rh":1.039,"d":0.0055,"dl":-0.0127,"dh":0.0237},
{"s":"B","e":5.48,"r":0.976,"rl":0.946,"rh":1.006,"d":-0.0145,"dl":-0.0326,"dh":0.0036},
{"s":"B","e":5.68,"r":1.042,"rl":1.012,"rh":1.072,"d":0.0252,"dl":0.0072,"dh":0.0432},
{"s":"B","e":5.89,"r":0.997,"rl":0.967,"rh":1.027,"d":-0.0018,"dl":-0.0197,"dh":0.0161},
{"s":"B","e":6.11,"r":1.018,"rl":0.988,"rh":1.048,"d":0.0106,"dl":-0.0071,"dh":0.0283},
{"s":"B","e":6.34,"r":0.961,"rl":0.931,"rh":0.991,"d":-0.0228,"dl":-0.0403,"dh":-0.0053},
{"s":"B","e":6.56,"r":1.036,"rl":1.006,"rh":1.066,"d":0.0205,"dl":0.0034,"dh":0.0376},
{"s":"B","e":6.81,"r":0.982,"rl":0.952,"rh":1.012,"d":-0.0101,"dl":-0.0269,"dh":0.0067},
{"s":"B","e":7.06,"r":1.006,"rl":0.976,"rh":1.036,"d":0.0033,"dl":-0.0132,"dh":0.0198},
{"s":"B","e":7.31,"r":1.048,"rl":1.018,"rh":1.078,"d":0.0258,"dl":0.0097,"dh":0.0419},
{"s":"B","e":7.58,"r":0.97,"rl":0.94,"rh":1.0,"d":-0.0154,"dl":-0.0308,"dh":0},
{"s":"B","e":7.86,"r":1.015,"rl":0.985,"rh":1.045,"d":0.0074,"dl":-0.0074,"dh":0.0222},
{"s":"B","e":8.14,"r":0.991,"rl":0.961,"rh":1.021,"d":-0.0043,"dl":-0.0186,"dh":0.01},
{"s":"B","e":8.45,"r":0.947,"rl":0.909,"rh":0.985,"d":-0.0239,"dl":-0.041,"dh":-0.0068},
{"s":"B","e":8.76,"r":1.042,"rl":1.004,"rh":1.08,"d":0.0179,"dl":0.0016,"dh":0.0342},
{"s":"B","e":9.08,"r":1.0,"rl":0.962,"rh":1.038,"d":0,"dl":-0.0154,"dh":0.0154},
{"s":"B","e":9.42,"r":0.966,"rl":0.928,"rh":1.004,"d":-0.0131,"dl":-0.0276,"dh":0.0014},
{"s":"B","e":9.76,"r":1.068,"rl":1.03,"rh":1.106,"d":0.0245,"dl":0.0109,"dh":0.0381},
{"s":"B","e":10.12,"r":0.985,"rl":0.947,"rh":1.023,"d":-0.0051,"dl":-0.0178,"dh":0.0076},
{"s":"B","e":10.49,"r":0.945,"rl":0.895,"rh":0.995,"d":-0.0171,"dl":-0.0326,"dh":-0.0016},
{"s":"B","e":10.88,"r":1.04,"rl":0.99,"rh":1.09,"d":0.0114,"dl":-0.0028,"dh":0.0256},
{"s":"B","e":11.28,"r":1.075,"rl":1.025,"rh":1.125,"d":0.0197,"dl":0.0066,"dh":0.0328},
{"s":"B","e":11.69,"r":0.965,"rl":0.915,"rh":1.015,"d":-0.0084,"dl":-0.0204,"dh":0.0036},
{"s":"B","e":12.12,"r":0.99,"rl":0.94,"rh":1.04,"d":-0.0022,"dl":-0.0133,"dh":0.0089},
{"s":"B","e":12.56,"r":1.065,"rl":1.0,"rh":1.13,"d":0.013,"dl":0,"dh":0.026},
{"s":"B","e":13.02,"r":0.896,"rl":0.831,"rh":0.961,"d":-0.0186,"dl":-0.0302,"dh":-0.007},
{"s":"B","e":13.51,"r":1.026,"rl":0.961,"rh":1.091,"d":0.0042,"dl":-0.0063,"dh":0.0147},
{"s":"B","e":14.00,"r":0.948,"rl":0.883,"rh":1.013,"d":-0.0075,"dl":-0.0169,"dh":0.0019},
{"s":"B","e":14.51,"r":1.111,"rl":1.026,"rh":1.196,"d":0.0143,"dl":0.0033,"dh":0.0253},
{"s":"B","e":15.05,"r":1.009,"rl":0.924,"rh":1.094,"d":0.001,"dl":-0.0086,"dh":0.0106},
{"s":"B","e":15.60,"r":0.898,"rl":0.813,"rh":0.983,"d":-0.0101,"dl":-0.0185,"dh":-0.0017},
{"s":"B","e":16.18,"r":1.077,"rl":0.992,"rh":1.162,"d":0.0067,"dl":-0.0007,"dh":0.0141},
{"s":"B","e":16.76,"r":0.945,"rl":0.835,"rh":1.055,"d":-0.0042,"dl":-0.0125,"dh":0.0041},
{"s":"B","e":17.38,"r":1.187,"rl":1.077,"rh":1.297,"d":0.0121,"dl":0.005,"dh":0.0192},
{"s":"B","e":18.01,"r":0.89,"rl":0.78,"rh":1.0,"d":-0.0061,"dl":-0.0122,"dh":0},
{"s":"B","e":18.68,"r":1.042,"rl":0.902,"rh":1.182,"d":0.002,"dl":-0.0047,"dh":0.0087},
{"s":"B","e":19.36,"r":1.154,"rl":1.014,"rh":1.294,"d":0.0062,"dl":0.0006,"dh":0.0118},
{"s":"B","e":20.08,"r":0.804,"rl":0.664,"rh":0.944,"d":-0.0066,"dl":-0.0113,"dh":-0.0019},
{"s":"B","e":20.81,"r":1.102,"rl":0.932,"rh":1.272,"d":0.0029,"dl":-0.0019,"dh":0.0077},
{"s":"B","e":21.58,"r":1.34,"rl":1.17,"rh":1.51,"d":0.0082,"dl":0.0041,"dh":0.0123},
{"s":"B","e":22.37,"r":0.898,"rl":0.728,"rh":1.068,"d":-0.002,"dl":-0.0054,"dh":0.0014},
{"s":"B","e":23.19,"r":0.769,"rl":0.559,"rh":0.979,"d":-0.004,"dl":-0.0076,"dh":-0.0004},
{"s":"B","e":24.04,"r":1.294,"rl":1.084,"rh":1.504,"d":0.0041,"dl":0.0012,"dh":0.007},
{"s":"B","e":24.93,"r":1.05,"rl":0.8,"rh":1.3,"d":0.0005,"dl":-0.0022,"dh":0.0032},
{"s":"B","e":25.84,"r":0.6,"rl":0.35,"rh":0.85,"d":-0.0035,"dl":-0.0057,"dh":-0.0013},
{"s":"B","e":26.78,"r":1.232,"rl":0.942,"rh":1.522,"d":0.0016,"dl":-0.0004,"dh":0.0036},
{"s":"B","e":27.77,"r":1.435,"rl":1.145,"rh":1.725,"d":0.0024,"dl":0.0008,"dh":0.004},
{"s":"B","e":28.79,"r":0.703,"rl":0.373,"rh":1.033,"d":-0.0014,"dl":-0.0029,"dh":0.0001},
{"s":"B","e":29.85,"r":0.901,"rl":0.571,"rh":1.231,"d":-0.0003,"dl":-0.0014,"dh":0.0008},
{"s":"B","e":30.94,"r":1.703,"rl":1.333,"rh":2.073,"d":0.0019,"dl":0.0009,"dh":0.0029},
{"s":"B","e":32.07,"r":0.556,"rl":0.186,"rh":0.926,"d":-0.001,"dl":-0.0018,"dh":-0.0002},
{"s":"B","e":33.25,"r":1.185,"rl":0.815,"rh":1.555,"d":0.0003,"dl":-0.0003,"dh":0.0009},
{"s":"B","e":34.48,"r":0.699,"rl":0.269,"rh":1.129,"d":-0.0004,"dl":-0.0009,"dh":0.0001},
{"s":"B","e":35.74,"r":1.516,"rl":1.086,"rh":1.946,"d":0.0005,"dl":0.0001,"dh":0.0009},
{"s":"B","e":37.05,"r":0.1,"rl":-0.4,"rh":0.6,"d":-0.0007,"dl":-0.0011,"dh":-0.0003},
{"s":"B","e":38.41,"r":1.35,"rl":0.85,"rh":1.85,"d":0.0002,"dl":-0.0001,"dh":0.0005},
{"s":"B","e":39.83,"r":1.8,"rl":1.3,"rh":2.3,"d":0.0003,"dl":0.0001,"dh":0.0005},
{"s":"B","e":41.29,"r":0.76,"rl":0.16,"rh":1.36,"d":-0.0001,"dl":-0.0003,"dh":0.0001},
{"s":"B","e":42.80,"r":0.22,"rl":-0.38,"rh":0.82,"d":-0.0003,"dl":-0.0005,"dh":-0.0001},
{"s":"B","e":44.37,"r":2.32,"rl":1.72,"rh":2.92,"d":0.0002,"dl":0.0001,"dh":0.0003},
{"s":"B","e":46.00,"r":0.925,"rl":0.175,"rh":1.675,"d":0,"dl":-0.0001,"dh":0.0001},
{"s":"B","e":47.68,"r":1.75,"rl":1.0,"rh":2.5,"d":0.0001,"dl":0,"dh":0.0002},
{"s":"B","e":49.44,"r":-0.125,"rl":-0.875,"rh":0.625,"d":-0.0001,"dl":-0.0002,"dh":0}
],
"model": [
{"e":4,"m":0.6},{"e":5,"m":0.607},{"e":6,"m":0.59},{"e":7,"m":0.545},{"e":8,"m":0.47},{"e":9,"m":0.395},{"e":10,"m":0.325},{"e":12,"m":0.212},{"e":14,"m":0.133},{"e":16,"m":0.082},{"e":18,"m":0.05},{"e":20,"m":0.03},{"e":22.6,"m":0.017},{"e":25,"m":0.009},{"e":27.5,"m":0.005},{"e":30,"m":0.0028},{"e":35,"m":0.00095},{"e":40,"m":0.00038},{"e":45,"m":0.00018},{"e":50,"m":0.0001}
],
"comp": [
{"k":"tot","e":4,"v":0.00345},{"k":"tot","e":4.5,"v":0.0031},{"k":"tot","e":5,"v":0.00283},{"k":"tot","e":5.5,"v":0.00255},{"k":"tot","e":6,"v":0.0023},{"k":"tot","e":6.5,"v":0.00207},{"k":"tot","e":7,"v":0.00183},{"k":"tot","e":7.5,"v":0.00162},{"k":"tot","e":8,"v":0.00144},{"k":"tot","e":9,"v":0.00117},{"k":"tot","e":10,"v":0.00098},{"k":"tot","e":12,"v":0.0007},{"k":"tot","e":15,"v":0.00045},{"k":"tot","e":17.5,"v":0.00031},{"k":"tot","e":20,"v":0.000205},{"k":"tot","e":22.5,"v":0.000135},{"k":"tot","e":25,"v":0.000088},{"k":"tot","e":27.5,"v":0.000059},{"k":"tot","e":30,"v":0.000042},{"k":"tot","e":33,"v":0.000026},{"k":"tot","e":36,"v":0.000016},{"k":"tot","e":39.2,"v":0.00001},{"k":"tot","e":40,"v":0.0000088},
{"k":"c1","e":4,"v":0.00338},{"k":"c1","e":4.5,"v":0.003},{"k":"c1","e":5,"v":0.0027},{"k":"c1","e":5.5,"v":0.00239},{"k":"c1","e":6,"v":0.00212},{"k":"c1","e":6.5,"v":0.00188},{"k":"c1","e":7,"v":0.00168},{"k":"c1","e":7.5,"v":0.00151},{"k":"c1","e":8,"v":0.00137},{"k":"c1","e":9,"v":0.00115},{"k":"c1","e":10,"v":0.00098},{"k":"c1","e":12,"v":0.0007},{"k":"c1","e":15,"v":0.00045},{"k":"c1","e":17.5,"v":0.00031},{"k":"c1","e":20,"v":0.000205},{"k":"c1","e":22.5,"v":0.000135},{"k":"c1","e":25,"v":0.000088},{"k":"c1","e":27.5,"v":0.000059},{"k":"c1","e":30,"v":0.000042},{"k":"c1","e":33,"v":0.000026},{"k":"c1","e":36,"v":0.000016},{"k":"c1","e":39.2,"v":0.00001},{"k":"c1","e":40,"v":0.0000088},
{"k":"c2","e":4,"v":0.000069},{"k":"c2","e":4.5,"v":0.0001},{"k":"c2","e":5,"v":0.000133},{"k":"c2","e":5.5,"v":0.000162},{"k":"c2","e":6,"v":0.000183},{"k":"c2","e":6.3,"v":0.000188},{"k":"c2","e":6.6,"v":0.000182},{"k":"c2","e":7,"v":0.000155},{"k":"c2","e":7.5,"v":0.00011},{"k":"c2","e":8,"v":0.000066},{"k":"c2","e":8.5,"v":0.000036},{"k":"c2","e":9,"v":0.000016},{"k":"c2","e":9.3,"v":0.000009}
]
},
"hconcat": [
{
"vconcat": [
{
"width": 447, "height": 252,
"title": {"text": "Energy Spectrum | Obs1", "offset": -24, "baseline": "bottom"},
"layer": [
{"data": {"name": "spec"}, "mark": {"type": "rule", "clip": true, "strokeWidth": 1.6, "invalid": "filter"},
 "encoding": {
  "x": {"field": "e", "type": "quantitative", "scale": {"type": "log", "domain": [4, 50], "nice": false},
        "axis": {"orient": "bottom", "values": [5,6,7,8,9,10,20,30,40], "tickSize": {"condition": {"test": "datum.value==10||datum.value==20", "value": -9}, "value": -5}, "labels": false, "title": null}},
  "y": {"field": "cl", "type": "quantitative", "scale": {"type": "log", "domain": [0.00001, 0.65], "nice": false},
        "axis": {"orient": "left", "values": [0.00001,0.00002,0.00003,0.00004,0.00005,0.00006,0.00007,0.00008,0.00009,0.0001,0.0002,0.0003,0.0004,0.0005,0.0006,0.0007,0.0008,0.0009,0.001,0.002,0.003,0.004,0.005,0.006,0.007,0.008,0.009,0.01,0.02,0.03,0.04,0.05,0.06,0.07,0.08,0.09,0.1,0.2,0.3,0.4,0.5,0.6],
                 "tickSize": {"condition": {"test": "abs(log(datum.value)/LN10-round(log(datum.value)/LN10))<0.01", "value": -9}, "value": -5},
                 "labelExpr": "abs(log(datum.value)/LN10-round(log(datum.value)/LN10))>=0.01?'':datum.value>0.05?'0.1':datum.value>0.005?'0.01':datum.value>0.0005?'10⁻³':datum.value>0.00005?'10⁻⁴':'10⁻⁵'",
                 "labelOverlap": false, "labelPadding": 28,
                 "title": "normalized counts s⁻¹ keV⁻¹", "titleAngle": 270, "titleX": -130, "titleY": 126, "titleAlign": "center", "titleBaseline": "middle"}},
  "y2": {"field": "ch"},
  "color": {"field": "s", "type": "nominal", "scale": {"domain": ["A","B"], "range": ["#000000","#ff0000"]}, "legend": null}
 }},
{"data": {"name": "spec"}, "mark": {"type": "line", "clip": true, "strokeWidth": 1.1, "invalid": "filter"},
 "encoding": {
  "x": {"field": "e", "type": "quantitative", "scale": {"type": "log", "domain": [4, 50], "nice": false},
        "axis": {"orient": "top", "values": [5,6,7,8,9,10,20,30,40], "tickSize": {"condition": {"test": "datum.value==10||datum.value==20", "value": -9}, "value": -5}, "labels": false, "title": null}},
  "y": {"field": "c", "type": "quantitative", "scale": {"type": "log", "domain": [0.00001, 0.65], "nice": false},
        "axis": {"orient": "right", "values": [0.00001,0.00002,0.00003,0.00004,0.00005,0.00006,0.00007,0.00008,0.00009,0.0001,0.0002,0.0003,0.0004,0.0005,0.0006,0.0007,0.0008,0.0009,0.001,0.002,0.003,0.004,0.005,0.006,0.007,0.008,0.009,0.01,0.02,0.03,0.04,0.05,0.06,0.07,0.08,0.09,0.1,0.2,0.3,0.4,0.5,0.6],
                 "tickSize": {"condition": {"test": "abs(log(datum.value)/LN10-round(log(datum.value)/LN10))<0.01", "value": -9}, "value": -5}, "labels": false, "title": null}},
  "color": {"field": "s", "type": "nominal", "scale": {"domain": ["A","B"], "range": ["#000000","#ff0000"]}, "legend": null}
 }},
{"data": {"name": "model"}, "mark": {"type": "line", "clip": true, "color": "#e8141c", "strokeWidth": 1.8},
 "encoding": {
  "x": {"field": "e", "type": "quantitative", "scale": {"type": "log", "domain": [4, 50], "nice": false}, "axis": null},
  "y": {"field": "m", "type": "quantitative", "scale": {"type": "log", "domain": [0.00001, 0.65], "nice": false}, "axis": null}
 }}
],
"resolve": {"axis": {"x": "independent", "y": "independent"}}
},
{
"width": 447, "height": 251,
"layer": [
{"data": {"name": "spec"}, "mark": {"type": "rule", "clip": true, "strokeWidth": 1.5},
 "encoding": {
  "x": {"field": "e", "type": "quantitative", "scale": {"type": "log", "domain": [4, 50], "nice": false},
        "axis": {"orient": "bottom", "values": [5,6,7,8,9,10,20,30,40], "tickSize": {"condition": {"test": "datum.value==10||datum.value==20", "value": -9}, "value": -5}, "labels": false, "title": null}},
  "y": {"field": "rl", "type": "quantitative", "scale": {"domain": [-0.08, 2.52], "nice": false, "zero": false},
        "axis": {"orient": "left", "values": [0,0.2,0.4,0.6,0.8,1,1.2,1.4,1.6,1.8,2,2.2,2.4],
                 "tickSize": {"condition": {"test": "datum.value==0||datum.value==1||datum.value==2", "value": -9}, "value": -5},
                 "labelExpr": "datum.value==0?'0':datum.value==1?'1':datum.value==2?'2':''",
                 "labelOverlap": false, "labelPadding": 28,
                 "title": "ratio", "titleAngle": 270, "titleX": -130, "titleY": 125.5, "titleAlign": "center", "titleBaseline": "middle"}},
  "y2": {"field": "rh"},
  "color": {"field": "s", "type": "nominal", "scale": {"domain": ["A","B"], "range": ["#000000","#ff0000"]}, "legend": null}
 }},
{"data": {"name": "spec"}, "mark": {"type": "line", "clip": true, "strokeWidth": 0.8},
 "encoding": {
  "x": {"field": "e", "type": "quantitative", "scale": {"type": "log", "domain": [4, 50], "nice": false},
        "axis": {"orient": "top", "values": [5,6,7,8,9,10,20,30,40], "tickSize": {"condition": {"test": "datum.value==10||datum.value==20", "value": -9}, "value": -5}, "labels": false, "title": null}},
  "y": {"field": "r", "type": "quantitative", "scale": {"domain": [-0.08, 2.52], "nice": false, "zero": false},
        "axis": {"orient": "right", "values": [0,0.2,0.4,0.6,0.8,1,1.2,1.4,1.6,1.8,2,2.2,2.4],
                 "tickSize": {"condition": {"test": "datum.value==0||datum.value==1||datum.value==2", "value": -9}, "value": -5}, "labels": false, "title": null}},
  "color": {"field": "s", "type": "nominal", "scale": {"domain": ["A","B"], "range": ["#000000","#ff0000"]}, "legend": null}
 }},
{"mark": {"type": "rule", "color": "#3ec43e", "strokeWidth": 1.6},
 "encoding": {"y": {"datum": 1, "type": "quantitative", "scale": {"domain": [-0.08, 2.52], "nice": false, "zero": false}, "axis": null}}}
],
"resolve": {"axis": {"x": "independent", "y": "independent"}}
},
{
"width": 447, "height": 252,
"layer": [
{"data": {"name": "spec"}, "mark": {"type": "rule", "clip": true, "strokeWidth": 1.5},
 "encoding": {
  "x": {"field": "e", "type": "quantitative", "scale": {"type": "log", "domain": [4, 50], "nice": false},
        "axis": {"orient": "bottom", "values": [5,6,7,8,9,10,20,30,40], "tickSize": {"condition": {"test": "datum.value==10||datum.value==20", "value": -9}, "value": -5},
                 "labelExpr": "datum.value==5?'5':datum.value==10?'10':datum.value==20?'20':''", "labelFlush": false, "labelOverlap": false, "labelPadding": 15,
                 "title": "Energy (keV)", "titleX": 223.5, "titleY": 40, "titleBaseline": "top", "titleAlign": "center"}},
  "y": {"field": "dl", "type": "quantitative", "scale": {"domain": [-0.05, 0.05], "nice": false, "zero": false},
        "axis": {"orient": "left", "values": [-0.05,-0.04,-0.03,-0.02,-0.01,0,0.01,0.02,0.03,0.04,0.05],
                 "tickSize": {"condition": {"test": "abs(datum.value)<0.0001||abs(abs(datum.value)-0.05)<0.0001", "value": -9}, "value": -5},
                 "labelExpr": "abs(datum.value)<0.0001?'0':datum.value>0.045?'0.05':datum.value<-0.045?'−0.05':''",
                 "labelOverlap": false, "labelPadding": 28,
                 "title": "normalized counts s⁻¹ keV⁻¹", "titleAngle": 270, "titleX": -130, "titleY": 126, "titleAlign": "center", "titleBaseline": "middle"}},
  "y2": {"field": "dh"},
  "color": {"field": "s", "type": "nominal", "scale": {"domain": ["A","B"], "range": ["#000000","#ff0000"]}, "legend": null}
 }},
{"data": {"name": "spec"}, "mark": {"type": "line", "clip": true, "strokeWidth": 0.8},
 "encoding": {
  "x": {"field": "e", "type": "quantitative", "scale": {"type": "log", "domain": [4, 50], "nice": false},
        "axis": {"orient": "top", "values": [5,6,7,8,9,10,20,30,40], "tickSize": {"condition": {"test": "datum.value==10||datum.value==20", "value": -9}, "value": -5}, "labels": false, "title": null}},
  "y": {"field": "d", "type": "quantitative", "scale": {"domain": [-0.05, 0.05], "nice": false, "zero": false},
        "axis": {"orient": "right", "values": [-0.05,-0.04,-0.03,-0.02,-0.01,0,0.01,0.02,0.03,0.04,0.05],
                 "tickSize": {"condition": {"test": "abs(datum.value)<0.0001||abs(abs(datum.value)-0.05)<0.0001", "value": -9}, "value": -5}, "labels": false, "title": null}},
  "color": {"field": "s", "type": "nominal", "scale": {"domain": ["A","B"], "range": ["#000000","#ff0000"]}, "legend": null}
 }},
{"mark": {"type": "rule", "color": "#3ec43e", "strokeWidth": 1.6},
 "encoding": {"y": {"datum": 0, "type": "quantitative", "scale": {"domain": [-0.05, 0.05], "nice": false, "zero": false}, "axis": null}}}
],
"resolve": {"axis": {"x": "independent", "y": "independent"}}
}
],
"spacing": 0,
"bounds": "flush",
"resolve": {"scale": {"x": "independent", "y": "independent"}, "axis": {"x": "independent", "y": "independent"}}
},
{
"vconcat": [
{
"width": 446, "height": 301,
"title": {"text": "Energy Spectrum | Obs1", "offset": 1, "baseline": "bottom"},
"layer": [
{"data": {"name": "spec"}, "mark": {"type": "rule", "clip": true, "strokeWidth": 1.6, "invalid": "filter"},
 "encoding": {
  "x": {"field": "e", "type": "quantitative", "scale": {"type": "log", "domain": [4, 50], "nice": false},
        "axis": {"orient": "bottom", "values": [5,6,7,8,9,10,20,30,40], "tickSize": {"condition": {"test": "datum.value==10||datum.value==20", "value": -9}, "value": -5},
                 "labelExpr": "datum.value==5?'5':datum.value==10?'10':datum.value==20?'20':''", "labelFlush": false, "labelOverlap": false, "labelPadding": 15,
                 "title": "Energy (keV)", "titleX": 223, "titleY": 39, "titleBaseline": "top", "titleAlign": "center"}},
  "y": {"field": "cl", "type": "quantitative", "scale": {"type": "log", "domain": [0.00001, 0.65], "nice": false},
        "axis": {"orient": "left", "values": [0.00001,0.00002,0.00003,0.00004,0.00005,0.00006,0.00007,0.00008,0.00009,0.0001,0.0002,0.0003,0.0004,0.0005,0.0006,0.0007,0.0008,0.0009,0.001,0.002,0.003,0.004,0.005,0.006,0.007,0.008,0.009,0.01,0.02,0.03,0.04,0.05,0.06,0.07,0.08,0.09,0.1,0.2,0.3,0.4,0.5,0.6],
                 "tickSize": {"condition": {"test": "abs(log(datum.value)/LN10-round(log(datum.value)/LN10))<0.01", "value": -9}, "value": -5},
                 "labelExpr": "abs(log(datum.value)/LN10-round(log(datum.value)/LN10))>=0.01?'':datum.value>0.05?'0.1':datum.value>0.005?'0.01':datum.value>0.0005?'10⁻³':datum.value>0.00005?'10⁻⁴':'10⁻⁵'",
                 "labelOverlap": false, "labelPadding": 28,
                 "title": "normalized counts s⁻¹ keV⁻¹", "titleAngle": 270, "titleX": -134, "titleY": 150.5, "titleAlign": "center", "titleBaseline": "middle"}},
  "y2": {"field": "ch"},
  "color": {"field": "s", "type": "nominal", "scale": {"domain": ["A","B"], "range": ["#000000","#ff0000"]}, "legend": null}
 }},
{"data": {"name": "spec"}, "mark": {"type": "line", "clip": true, "strokeWidth": 1.1, "invalid": "filter"},
 "encoding": {
  "x": {"field": "e", "type": "quantitative", "scale": {"type": "log", "domain": [4, 50], "nice": false},
        "axis": {"orient": "top", "values": [5,6,7,8,9,10,20,30,40], "tickSize": {"condition": {"test": "datum.value==10||datum.value==20", "value": -9}, "value": -5}, "labels": false, "title": null}},
  "y": {"field": "c", "type": "quantitative", "scale": {"type": "log", "domain": [0.00001, 0.65], "nice": false},
        "axis": {"orient": "right", "values": [0.00001,0.00002,0.00003,0.00004,0.00005,0.00006,0.00007,0.00008,0.00009,0.0001,0.0002,0.0003,0.0004,0.0005,0.0006,0.0007,0.0008,0.0009,0.001,0.002,0.003,0.004,0.005,0.006,0.007,0.008,0.009,0.01,0.02,0.03,0.04,0.05,0.06,0.07,0.08,0.09,0.1,0.2,0.3,0.4,0.5,0.6],
                 "tickSize": {"condition": {"test": "abs(log(datum.value)/LN10-round(log(datum.value)/LN10))<0.01", "value": -9}, "value": -5}, "labels": false, "title": null}},
  "color": {"field": "s", "type": "nominal", "scale": {"domain": ["A","B"], "range": ["#000000","#ff0000"]}, "legend": null}
 }},
{"data": {"name": "model"}, "mark": {"type": "line", "clip": true, "color": "#e8141c", "strokeWidth": 1.8},
 "encoding": {
  "x": {"field": "e", "type": "quantitative", "scale": {"type": "log", "domain": [4, 50], "nice": false}, "axis": null},
  "y": {"field": "m", "type": "quantitative", "scale": {"type": "log", "domain": [0.00001, 0.65], "nice": false}, "axis": null}
 }}
],
"resolve": {"axis": {"x": "independent", "y": "independent"}}
},
{
"width": 446, "height": 303,
"title": {"text": "Model [4]", "offset": 0, "baseline": "bottom"},
"layer": [
{"data": {"name": "comp"}, "transform": [{"filter": "datum.k != 'tot'"}],
 "mark": {"type": "line", "clip": true, "strokeDash": [2, 3], "strokeWidth": 1.8, "color": "#b02a2a"},
 "encoding": {
  "x": {"field": "e", "type": "quantitative", "scale": {"type": "log", "domain": [4, 50], "nice": false},
        "axis": {"orient": "top", "values": [5,6,7,8,9,10,20,30,40], "tickSize": {"condition": {"test": "datum.value==10||datum.value==20", "value": -9}, "value": -5}, "labels": false, "title": null}},
  "y": {"field": "v", "type": "quantitative", "scale": {"type": "log", "domain": [0.00001, 0.01], "nice": false},
        "axis": {"orient": "right", "values": [0.00001,0.00002,0.00003,0.00004,0.00005,0.00006,0.00007,0.00008,0.00009,0.0001,0.0002,0.0003,0.0004,0.0005,0.0006,0.0007,0.0008,0.0009,0.001,0.002,0.003,0.004,0.005,0.006,0.007,0.008,0.009,0.01],
                 "tickSize": {"condition": {"test": "abs(log(datum.value)/LN10-round(log(datum.value)/LN10))<0.01", "value": -9}, "value": -5}, "labels": false, "title": null}},
  "detail": {"field": "k"}
 }},
{"data": {"name": "comp"}, "transform": [{"filter": "datum.k == 'tot'"}],
 "mark": {"type": "line", "clip": true, "strokeWidth": 2.2, "color": "#8e1b15"},
 "encoding": {
  "x": {"field": "e", "type": "quantitative", "scale": {"type": "log", "domain": [4, 50], "nice": false},
        "axis": {"orient": "bottom", "values": [5,6,7,8,9,10,20,30,40], "tickSize": {"condition": {"test": "datum.value==10||datum.value==20", "value": -9}, "value": -5},
                 "labelExpr": "datum.value==5?'5':datum.value==10?'10':datum.value==20?'20':''", "labelFlush": false, "labelOverlap": false, "labelPadding": 15,
                 "title": "Energy (keV)", "titleX": 223, "titleY": 40, "titleBaseline": "top", "titleAlign": "center"}},
  "y": {"field": "v", "type": "quantitative", "scale": {"type": "log", "domain": [0.00001, 0.01], "nice": false},
        "axis": {"orient": "left", "values": [0.00001,0.00002,0.00003,0.00004,0.00005,0.00006,0.00007,0.00008,0.00009,0.0001,0.0002,0.0003,0.0004,0.0005,0.0006,0.0007,0.0008,0.0009,0.001,0.002,0.003,0.004,0.005,0.006,0.007,0.008,0.009,0.01],
                 "tickSize": {"condition": {"test": "abs(log(datum.value)/LN10-round(log(datum.value)/LN10))<0.01", "value": -9}, "value": -5},
                 "labelExpr": "abs(log(datum.value)/LN10-round(log(datum.value)/LN10))>=0.01?'':datum.value>0.005?'0.01':datum.value>0.0005?'10⁻³':datum.value>0.00005?'10⁻⁴':'10⁻⁵'",
                 "labelOverlap": false, "labelPadding": 28,
                 "title": "Photons cm⁻² s⁻¹ keV⁻¹", "titleAngle": 270, "titleX": -134, "titleY": 151.5, "titleAlign": "center", "titleBaseline": "middle"}}
 }}
],
"resolve": {"axis": {"x": "independent", "y": "independent"}}
}
],
"spacing": 152,
"bounds": "flush",
"resolve": {"scale": {"x": "independent", "y": "independent"}, "axis": {"x": "independent", "y": "independent"}}
}
],
"spacing": 637,
"bounds": "flush",
"resolve": {"scale": {"x": "independent", "y": "independent"}, "axis": {"x": "independent", "y": "independent"}}
}
